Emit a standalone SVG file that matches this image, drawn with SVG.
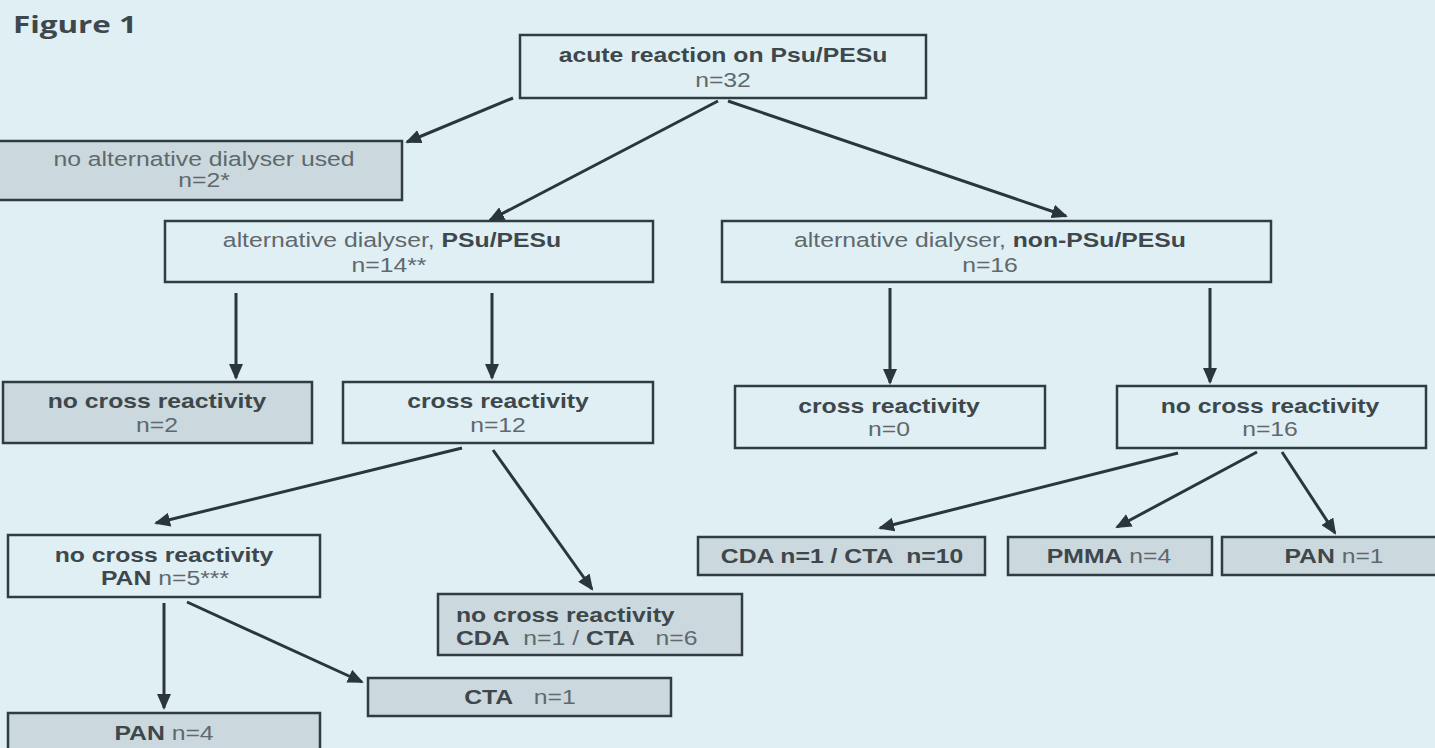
<svg xmlns="http://www.w3.org/2000/svg" width="1435" height="748" viewBox="0 0 1435 748">
<defs>
<style>
.bg{fill:#dfeff4}
.box{fill:#dfeff4;stroke:#303c41;stroke-width:2.5}
.gray{fill:#cbd8dd;stroke:#303c41;stroke-width:2.5}
text{font-family:"Liberation Sans",Arial,sans-serif;font-size:19.5px;fill:#5f686c;text-anchor:middle}
.b{font-weight:bold;fill:#3e474b}
.st{text-anchor:start}
.ttl{font-family:"Open Sans","Liberation Sans",sans-serif;font-weight:bold;font-size:23px;fill:#3e474b;text-anchor:start}
.conn line{stroke:#2b363a;stroke-width:3;marker-end:url(#ah)}
</style>
<marker id="ah" viewBox="0 0 16 14" refX="14" refY="7" markerWidth="16" markerHeight="14" markerUnits="userSpaceOnUse" orient="auto">
<path d="M0,0 L16,7 L0,14 z" fill="#2b363a"/>
</marker>
</defs>
<rect class="bg" x="0" y="0" width="1435" height="748"/>
<text class="ttl" x="13" y="33" textLength="124" lengthAdjust="spacingAndGlyphs">Figure 1</text>

<g id="n_top">
<rect class="box" x="520" y="35" width="406" height="63"/>
<text class="b" transform="translate(723,0) scale(1.27,1)" y="62">acute reaction on Psu/PESu</text>
<text transform="translate(723,0) scale(1.27,1)" y="87">n=32</text>
</g>
<g id="n_noalt">
<rect class="gray" x="-2" y="141" width="404" height="59"/>
<text transform="translate(204,0) scale(1.27,1)" y="166">no alternative dialyser used</text>
<text transform="translate(204,0) scale(1.27,1)" y="187">n=2*</text>
</g>
<g id="n_altpsu">
<rect class="box" x="165" y="221" width="488" height="61"/>
<text transform="translate(392,0) scale(1.27,1)" y="247">alternative dialyser, <tspan class="b">PSu/PESu</tspan></text>
<text transform="translate(389,0) scale(1.27,1)" y="272">n=14**</text>
</g>
<g id="n_altnon">
<rect class="box" x="722" y="221" width="549" height="61"/>
<text transform="translate(990,0) scale(1.27,1)" y="247">alternative dialyser, <tspan class="b">non-PSu/PESu</tspan></text>
<text transform="translate(990,0) scale(1.27,1)" y="272">n=16</text>
</g>
<g id="n_nocr2">
<rect class="gray" x="3" y="382" width="309" height="61"/>
<text class="b" transform="translate(157,0) scale(1.27,1)" y="408">no cross reactivity</text>
<text transform="translate(157,0) scale(1.27,1)" y="432">n=2</text>
</g>
<g id="n_cr12">
<rect class="box" x="343" y="382" width="310" height="61"/>
<text class="b" transform="translate(498,0) scale(1.27,1)" y="408">cross reactivity</text>
<text transform="translate(498,0) scale(1.27,1)" y="432">n=12</text>
</g>
<g id="n_cr0">
<rect class="box" x="735" y="386" width="310" height="62"/>
<text class="b" transform="translate(889,0) scale(1.27,1)" y="413">cross reactivity</text>
<text transform="translate(889,0) scale(1.27,1)" y="436">n=0</text>
</g>
<g id="n_nocr16">
<rect class="box" x="1117" y="386" width="309" height="62"/>
<text class="b" transform="translate(1270,0) scale(1.27,1)" y="413">no cross reactivity</text>
<text transform="translate(1270,0) scale(1.27,1)" y="436">n=16</text>
</g>
<g id="n_pan5">
<rect class="box" x="8" y="535" width="312" height="62"/>
<text class="b" transform="translate(164,0) scale(1.27,1)" y="562">no cross reactivity</text>
<text transform="translate(165,0) scale(1.27,1)" y="585"><tspan class="b">PAN</tspan> n=5***</text>
</g>
<g id="n_cda6">
<rect class="gray" x="438" y="594" width="304" height="61"/>
<text class="b st" transform="translate(456,0) scale(1.27,1)" x="0" y="622">no cross reactivity</text>
<text class="st" xml:space="preserve" transform="translate(456,0) scale(1.27,1)" x="0" y="645"><tspan class="b">CDA</tspan>  n=1 / <tspan class="b">CTA</tspan>   n=6</text>
</g>
<g id="n_cta1">
<rect class="gray" x="368" y="678" width="303" height="38"/>
<text xml:space="preserve" transform="translate(520,0) scale(1.27,1)" y="704"><tspan class="b">CTA</tspan>   n=1</text>
</g>
<g id="n_pan4">
<rect class="gray" x="8" y="713" width="312" height="42"/>
<text transform="translate(164,0) scale(1.27,1)" y="740"><tspan class="b">PAN</tspan> n=4</text>
</g>
<g id="n_cda10">
<rect class="gray" x="698" y="537" width="287" height="38"/>
<text class="b" xml:space="preserve" transform="translate(842,0) scale(1.27,1)" y="563">CDA n=1 / CTA  n=10</text>
</g>
<g id="n_pmma">
<rect class="gray" x="1008" y="537" width="204" height="38"/>
<text transform="translate(1109,0) scale(1.27,1)" y="563"><tspan class="b">PMMA</tspan> n=4</text>
</g>
<g id="n_pan1">
<rect class="gray" x="1222" y="537" width="225" height="38"/>
<text transform="translate(1334,0) scale(1.27,1)" y="563"><tspan class="b">PAN</tspan> n=1</text>
</g>

<g id="connectors" class="conn">
<line x1="513" y1="98" x2="407" y2="142"/>
<line x1="718" y1="101" x2="490" y2="220"/>
<line x1="728" y1="101" x2="1066" y2="216"/>
<line x1="236" y1="293" x2="236" y2="378"/>
<line x1="492" y1="293" x2="492" y2="378"/>
<line x1="890" y1="288" x2="890" y2="383"/>
<line x1="1210" y1="288" x2="1210" y2="382"/>
<line x1="462" y1="448" x2="156" y2="523"/>
<line x1="493" y1="450" x2="592" y2="589"/>
<line x1="164" y1="603" x2="164" y2="708"/>
<line x1="187" y1="602" x2="362" y2="682"/>
<line x1="1178" y1="453" x2="880" y2="528"/>
<line x1="1257" y1="452" x2="1117" y2="527"/>
<line x1="1282" y1="452" x2="1335" y2="533"/>
</g>
</svg>
